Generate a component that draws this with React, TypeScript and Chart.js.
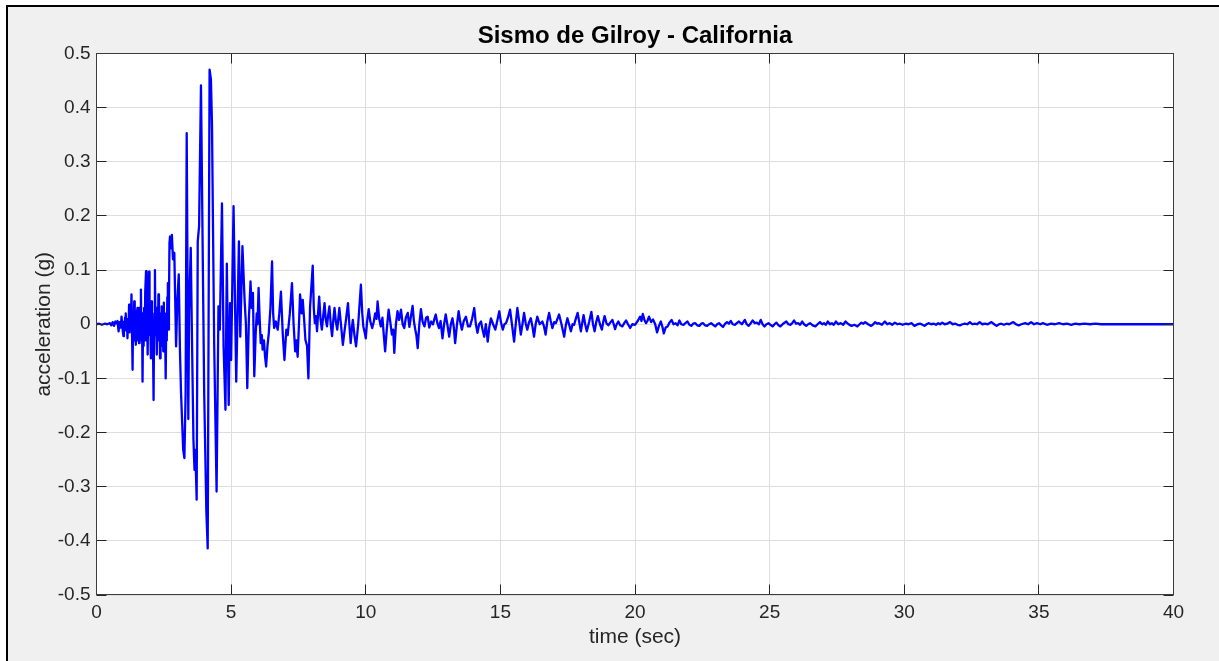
import React, { useEffect, useRef } from "react";
import { Chart, registerables } from "chart.js";

Chart.register(...registerables);

// [time (s), acceleration (g)]
const preEvent: [number, number][] = [
  [0, 0], [0.1, 0.001], [0.2, -0.001], [0.3, 0.001], [0.4, 0], [0.5, 0.002], [0.55, -0.002],
  [0.6, 0.004], [0.65, -0.003], [0.7, 0.005], [0.74, 0.002], [0.78, 0.006], [0.82, -0.013],
  [0.86, 0.004], [0.9, -0.006], [0.93, 0.014], [0.97, -0.01],
  [1.0, -0.022], [1.02, 0.005], [1.04, -0.01], [1.06, 0.012], [1.08, -0.005], [1.09, 0.02],
  [1.11, -0.012], [1.13, 0.008], [1.15, -0.026], [1.17, 0.01], [1.19, -0.008], [1.21, 0.036],
  [1.23, -0.015], [1.25, 0.02], [1.27, -0.01], [1.3, 0.055], [1.32, -0.02], [1.34, -0.084],
  [1.36, 0.01], [1.38, -0.02], [1.4, 0.042], [1.42, -0.03], [1.44, 0.02], [1.46, -0.038],
  [1.48, 0.025], [1.5, -0.02], [1.52, 0.03], [1.54, -0.03], [1.56, 0.015], [1.58, -0.035],
  [1.6, 0.03], [1.62, -0.02], [1.65, 0.064], [1.67, -0.03], [1.69, 0.02], [1.71, -0.106],
  [1.73, 0.01], [1.75, -0.04], [1.77, 0.03], [1.79, -0.03], [1.81, 0.06], [1.84, 0.098],
  [1.86, -0.03], [1.88, 0.02], [1.9, -0.056], [1.92, 0.04], [1.95, 0.097], [1.97, -0.02],
  [1.99, 0.03], [2.02, -0.063], [2.04, 0.042], [2.06, -0.04], [2.08, 0.02], [2.1, -0.05],
  [2.12, -0.14], [2.14, 0.01], [2.17, 0.1], [2.19, -0.02], [2.21, 0.03], [2.24, -0.056],
  [2.26, 0.03], [2.28, -0.02], [2.3, 0.055], [2.32, -0.03], [2.34, 0.02], [2.36, -0.063],
  [2.38, 0.02], [2.4, -0.03], [2.42, 0.033], [2.44, -0.04], [2.46, 0.03], [2.48, -0.05],
  [2.5, 0.04], [2.52, -0.03], [2.54, 0.02], [2.57, -0.1], [2.59, 0.01], [2.61, -0.03],
  [2.63, 0.05], [2.65, 0.076], [2.67, -0.01], [2.69, 0.03],
];

const strongMotion: [number, number][] = [
  [2.71, 0.15], [2.73, 0.162], [2.76, 0.14], [2.8, 0.165], [2.84, 0.12], [2.89, 0.132],
  [2.956, -0.041], [3.0, 0.04], [3.055, 0.092], [3.1, -0.05], [3.14, -0.127], [3.22, -0.232],
  [3.265, -0.247], [3.31, -0.127], [3.35, 0.353], [3.41, -0.175], [3.44, 0.027], [3.5, 0.141],
  [3.54, -0.004], [3.6, -0.213], [3.64, -0.269], [3.67, -0.232], [3.72, -0.324], [3.76, 0.153],
  [3.81, 0.181], [3.88, 0.441], [4.0, -0.127], [4.08, -0.346], [4.13, -0.414], [4.2, 0.47],
  [4.25, 0.452], [4.29, 0.366], [4.37, -0.035], [4.46, -0.309], [4.53, 0.033], [4.58, -0.01],
  [4.66, 0.223], [4.72, -0.041], [4.79, -0.158], [4.84, 0.112], [4.91, -0.149], [4.96, 0.039],
  [5.0, -0.066], [5.09, 0.218], [5.19, -0.106], [5.29, 0.153], [5.34, -0.023], [5.42, 0.144],
  [5.5, 0.045], [5.55, 0.0], [5.6, -0.118], [5.66, 0.01], [5.72, 0.079], [5.76, 0.03],
  [5.81, 0.058], [5.86, -0.096], [5.91, -0.02], [5.95, 0.02], [5.98, 0.0], [6.02, 0.067],
  [6.06, 0.01], [6.1, -0.035], [6.14, -0.02], [6.17, -0.047], [6.22, -0.03], [6.26, -0.06],
  [6.3, -0.078], [6.35, -0.04], [6.4, -0.016], [6.46, 0.03], [6.52, 0.116], [6.56, 0.02],
  [6.6, -0.007], [6.66, 0.005], [6.73, -0.01], [6.79, 0.02], [6.85, 0.06], [6.92, -0.02],
  [6.98, -0.066], [7.05, -0.01], [7.1, -0.02], [7.18, 0.02], [7.26, 0.076], [7.32, 0.0],
  [7.38, -0.05], [7.42, -0.03], [7.47, -0.06], [7.52, 0.0], [7.56, 0.055], [7.62, 0.02],
  [7.66, 0.045], [7.71, 0.01], [7.76, -0.029], [7.82, -0.04], [7.87, -0.1], [7.93, 0.03],
  [8.03, 0.108], [8.07, 0.03], [8.11, 0.002], [8.15, 0.015], [8.19, -0.013], [8.23, 0.02],
  [8.27, 0.051], [8.32, 0.01], [8.37, -0.01], [8.42, 0.015], [8.47, 0.039], [8.51, 0.01],
  [8.56, -0.004], [8.6, 0.015], [8.65, 0.033], [8.7, 0.0], [8.75, -0.022], [8.79, 0.005],
  [8.84, 0.03], [8.89, 0.005], [8.94, -0.01], [8.98, 0.01], [9.02, 0.03], [9.08, 0.0],
  [9.15, -0.038], [9.21, -0.013], [9.27, 0.01], [9.34, 0.039], [9.39, 0.0], [9.44, -0.035],
  [9.48, -0.01], [9.52, 0.008], [9.58, -0.02], [9.64, -0.041], [9.72, 0.0], [9.82, 0.073],
  [9.87, 0.02], [9.91, -0.004], [9.96, -0.015], [10.0, -0.026], [10.05, 0.005], [10.11, 0.028],
  [10.17, 0.005], [10.24, -0.007], [10.3, 0.005], [10.35, 0.02], [10.4, 0.01], [10.44, 0.042],
];

const codaEarly: [number, number][] = [
  [10.5, 0.01], [10.56, -0.004], [10.62, 0.012], [10.67, -0.02], [10.72, -0.05], [10.78, -0.01],
  [10.85, 0.027], [10.91, 0.005], [10.97, -0.019], [11.02, -0.01], [11.06, -0.053], [11.12, 0.0],
  [11.18, 0.024], [11.24, 0.008], [11.31, 0.027], [11.37, 0.0], [11.43, -0.007], [11.49, 0.012],
  [11.56, 0.021], [11.62, -0.005], [11.68, 0.015], [11.74, 0.034], [11.79, 0.005], [11.84, -0.01],
  [11.88, -0.02], [11.93, -0.044], [11.99, 0.0], [12.05, 0.028], [12.11, 0.005], [12.18, -0.004],
  [12.24, 0.012], [12.3, 0.014], [12.36, -0.006], [12.43, 0.005], [12.5, 0.0], [12.55, 0.01],
  [12.6, 0.018], [12.66, 0.002], [12.72, -0.007], [12.78, 0.006], [12.85, -0.026], [12.91, 0.0],
  [12.97, 0.018], [13.03, 0.0], [13.1, -0.023], [13.16, 0.0], [13.22, 0.011], [13.27, -0.005],
  [13.32, -0.035], [13.39, 0.0], [13.45, 0.024], [13.51, 0.004], [13.57, -0.01], [13.64, 0.006],
  [13.72, 0.014], [13.8, -0.004], [13.87, -0.004], [13.95, 0.01], [14.03, 0.03], [14.09, 0.0],
  [14.15, -0.016], [14.21, 0.0], [14.28, 0.005], [14.34, -0.01], [14.4, -0.023], [14.46, 0.0],
  [14.53, -0.032], [14.59, -0.005], [14.65, 0.011], [14.73, 0.0], [14.81, -0.01], [14.88, 0.005],
  [14.96, 0.024], [15.02, 0.004], [15.09, -0.01], [15.15, 0.0], [15.21, 0.002], [15.28, 0.012],
  [15.36, 0.027], [15.43, 0.0], [15.51, -0.032], [15.57, 0.0], [15.63, 0.03], [15.7, 0.005],
  [15.76, -0.019], [15.82, 0.0], [15.88, 0.021], [15.94, 0.002], [16.0, -0.01], [16.06, 0.003],
  [16.13, 0.011], [16.19, -0.004], [16.25, -0.023], [16.31, 0.0], [16.37, 0.014], [16.46, 0.0],
  [16.56, 0.005], [16.62, -0.004], [16.68, -0.019], [16.74, 0.004], [16.81, 0.021], [16.87, 0.006],
  [16.93, -0.007], [17.0, 0.004], [17.06, 0.002], [17.12, 0.01], [17.18, 0.018], [17.27, 0.0],
  [17.37, -0.023], [17.43, -0.002], [17.49, 0.011], [17.55, 0.0], [17.62, -0.013], [17.68, 0.0],
  [17.74, -0.001], [17.8, 0.01], [17.87, 0.021],
];

const codaLate: [number, number][] = [
  [17.99, -0.013], [18.04, 0.002], [18.09, 0.017], [18.15, 0.0], [18.21, -0.013], [18.3, 0.005],
  [18.38, 0.023], [18.44, 0.0], [18.5, -0.013], [18.56, 0.004], [18.62, 0.015], [18.7, 0.0],
  [18.77, -0.01], [18.82, 0.004], [18.87, 0.015], [18.94, 0.002], [19.01, -0.002], [19.08, 0.003],
  [19.16, 0.008], [19.21, 0.0], [19.26, -0.009], [19.32, 0.0], [19.38, 0.005], [19.45, -0.002],
  [19.53, -0.004], [19.6, 0.002], [19.67, 0.007], [19.74, 0.0], [19.82, -0.007], [19.9, 0.0],
  [20.0, -0.001], [20.1, 0.006], [20.19, 0.014], [20.24, 0.006], [20.29, 0.019], [20.35, 0.008],
  [20.41, 0.002], [20.46, 0.006], [20.52, 0.014], [20.6, 0.004], [20.67, 0.009], [20.75, 0.0],
  [20.82, -0.015], [20.89, -0.003], [20.96, 0.005], [21.02, -0.005], [21.07, -0.017], [21.14, -0.006],
  [21.21, -0.004], [21.28, 0.003], [21.36, 0.008], [21.43, 0.0], [21.51, 0.002], [21.58, -0.002],
  [21.65, 0.007], [21.72, 0.0], [21.8, -0.001], [21.87, 0.002], [21.95, 0.005], [22.02, -0.001],
  [22.09, -0.003], [22.16, 0.001], [22.24, 0.002], [22.31, -0.002], [22.39, -0.003], [22.46, 0.001],
  [22.53, 0.002], [22.6, -0.002], [22.68, -0.003], [22.75, 0.0], [22.83, 0.002], [22.9, -0.001],
  [22.98, -0.004], [23.05, 0.0], [23.12, 0.002], [23.2, -0.002], [23.27, -0.005], [23.35, 0.001],
  [23.42, 0.004], [23.49, 0.001], [23.56, 0.006], [23.63, 0.0], [23.71, -0.001], [23.78, 0.002],
  [23.86, 0.005], [23.97, 0.0], [24.08, 0.008], [24.15, 0.0], [24.22, -0.003], [24.3, 0.002],
  [24.37, 0.007], [24.45, 0.002], [24.52, 0.003], [24.6, 0.0], [24.67, 0.008], [24.74, 0.0],
  [24.81, -0.004], [24.88, 0.0], [24.96, 0.002], [25.03, -0.001], [25.11, -0.004], [25.18, 0.0],
  [25.25, 0.003], [25.33, -0.002], [25.4, -0.004], [25.5, 0.001], [25.62, 0.005], [25.7, 0.0],
  [25.77, -0.001], [25.84, 0.002], [25.91, 0.007], [25.98, 0.001], [26.06, 0.002], [26.13, -0.001],
  [26.21, 0.005], [26.28, 0.0], [26.36, -0.003], [26.43, 0.0], [26.5, 0.002], [26.6, -0.002],
  [26.7, -0.004], [26.78, 0.0], [26.87, 0.004], [26.95, 0.0], [27.02, 0.002], [27.09, -0.001],
  [27.16, 0.005], [27.24, 0.0], [27.31, 0.002], [27.38, -0.001], [27.46, 0.005], [27.55, 0.0],
  [27.64, 0.002], [27.73, -0.001], [27.82, 0.005], [27.93, 0.0], [28.04, -0.003], [28.15, -0.001],
  [28.26, -0.004], [28.34, 0.0], [28.41, 0.003], [28.48, 0.001], [28.55, 0.004], [28.66, 0.0],
  [28.77, -0.003], [28.85, 0.0], [28.92, 0.004], [29.0, 0.001], [29.06, 0.002], [29.17, -0.001],
  [29.28, 0.005], [29.37, 0.0], [29.46, 0.002], [29.55, -0.001], [29.65, 0.003], [29.75, 0.0],
  [29.84, 0.001], [29.94, -0.001], [30.05, 0.001], [30.16, 0.0], [30.27, 0.002], [30.38, -0.003],
  [30.49, 0.0], [30.6, 0.001], [30.68, -0.001], [30.75, -0.003], [30.83, 0.0], [30.9, 0.002],
  [31.0, 0.0], [31.1, 0.001], [31.18, -0.001], [31.26, 0.002], [31.33, 0.0], [31.41, 0.003],
  [31.5, 0.0], [31.6, 0.001], [31.7, 0.004], [31.8, 0.0], [31.9, 0.001], [31.98, -0.001],
  [32.07, -0.002], [32.16, 0.0], [32.25, 0.001], [32.34, 0.0], [32.44, 0.004], [32.53, 0.0],
  [32.62, 0.001], [32.7, 0.0], [32.8, 0.004], [32.9, 0.0], [33.0, 0.001], [33.1, 0.0],
  [33.24, 0.004], [33.34, 0.0], [33.43, -0.003], [33.52, 0.0], [33.6, 0.001], [33.7, -0.001],
  [33.8, 0.001], [33.9, 0.0], [34.05, 0.004], [34.15, 0.0], [34.25, -0.002], [34.35, 0.0],
  [34.49, 0.002], [34.6, 0.0], [34.71, 0.004], [34.82, 0.0], [34.93, 0.002], [35.05, 0.0],
  [35.15, 0.002], [35.3, -0.001], [35.45, 0.001], [35.6, 0.0], [35.75, 0.002], [35.9, 0.0],
  [36.05, 0.001], [36.2, -0.001], [36.35, 0.001], [36.5, 0.0], [36.7, 0.001], [36.9, 0.0],
  [37.1, 0.001], [37.3, 0.0], [37.6, 0.0], [38, 0], [39, 0], [40, 0],
];

const xTicks = [0, 5, 10, 15, 20, 25, 30, 35, 40];
const yTicks = [-0.5, -0.4, -0.3, -0.2, -0.1, 0, 0.1, 0.2, 0.3, 0.4, 0.5];
const yTickLabels = ["-0.5", "-0.4", "-0.3", "-0.2", "-0.1", "0", "0.1", "0.2", "0.3", "0.4", "0.5"];

const TITLE = "Sismo de Gilroy - California";
const X_LABEL = "time (sec)";
const Y_LABEL = "acceleration (g)";

const FONT = "'Liberation Sans', Arial, Helvetica, sans-serif";
const AXIS_COLOR = "#262626";

const matlabAxes = {
  id: "matlabAxes",
  afterLayout(chart: any) {
    // centre the title over the plot box, as MATLAB does
    const tb = chart.titleBlock;
    if (tb) {
      tb.left = chart.chartArea.left;
      tb.right = chart.chartArea.right;
    }
  },
  beforeDraw(chart: any) {
    const { ctx, chartArea: a } = chart;
    ctx.save();
    ctx.fillStyle = "#ffffff";
    ctx.fillRect(a.left, a.top, a.right - a.left, a.bottom - a.top);
    ctx.restore();
  },
  afterDatasetsDraw(chart: any) {
    const { ctx, chartArea: a, scales } = chart;
    const xs = scales.x;
    const ys = scales.y;
    const L = Math.floor(a.left) + 0.5;
    const R = Math.floor(a.right) + 0.5;
    const T = Math.floor(a.top) + 0.5;
    const B = Math.floor(a.bottom) - 0.5;
    const len = 10;
    ctx.save();
    ctx.strokeStyle = AXIS_COLOR;
    ctx.lineWidth = 1;
    ctx.beginPath();
    xTicks.forEach((v) => {
      const px = Math.floor(xs.getPixelForValue(v)) + 0.5;
      ctx.moveTo(px, B);
      ctx.lineTo(px, B - len);
      ctx.moveTo(px, T);
      ctx.lineTo(px, T + len);
    });
    yTicks.forEach((v) => {
      const py = Math.floor(ys.getPixelForValue(v)) + 0.5;
      ctx.moveTo(L, py);
      ctx.lineTo(L + len, py);
      ctx.moveTo(R, py);
      ctx.lineTo(R - len, py);
    });
    ctx.stroke();
    ctx.strokeStyle = "#3c3c3c";
    ctx.strokeRect(L, T, R - L, B - T);
    ctx.restore();
  },
};

export default function App() {
  const canvasRef = useRef<HTMLCanvasElement | null>(null);

  useEffect(() => {
    const canvas = canvasRef.current;
    if (!canvas) return;
    const points = [...preEvent, ...strongMotion, ...codaEarly, ...codaLate].map(([t, a]) => ({ x: t, y: a }));

    const chart = new Chart(canvas, {
      type: "line",
      data: {
        datasets: [
          {
            data: points,
            borderColor: "#0000ff",
            borderWidth: 2.3,
            pointRadius: 0,
            tension: 0,
            fill: false,
            borderJoinStyle: "round",
          } as any,
        ],
      },
      options: {
        animation: false,
        responsive: false,
        maintainAspectRatio: false,
        events: [],
        layout: { padding: { left: 0, right: 45.5, top: 0, bottom: 0 } },
        plugins: {
          legend: { display: false },
          tooltip: { enabled: false },
          title: {
            display: true,
            text: TITLE,
            color: "#000000",
            font: { family: FONT, size: 24, weight: "bold" },
            padding: { top: 22, bottom: 2.7 },
          },
        },
        scales: {
          x: {
            type: "linear",
            min: 0,
            max: 40,
            afterBuildTicks: (scale: any) => {
              scale.ticks = xTicks.map((v) => ({ value: v }));
            },
            ticks: {
              color: AXIS_COLOR,
              font: { family: FONT, size: 19 },
              padding: 6,
              maxRotation: 0,
              callback: (v: any) => String(v),
            },
            grid: { color: "#dedede", lineWidth: 1, drawTicks: false },
            border: { display: false },
            title: {
              display: true,
              text: X_LABEL,
              color: AXIS_COLOR,
              font: { family: FONT, size: 21 },
              padding: { top: 0, bottom: 11.4 },
            },
            afterFit: (scale: any) => {
              scale.height = 66;
            },
          },
          y: {
            type: "linear",
            min: -0.5,
            max: 0.5,
            afterBuildTicks: (scale: any) => {
              scale.ticks = yTicks.map((v) => ({ value: v }));
            },
            ticks: {
              color: AXIS_COLOR,
              font: { family: FONT, size: 19 },
              padding: 6,
              callback: (v: any) => {
                const i = yTicks.findIndex((t) => Math.abs(t - Number(v)) < 1e-9);
                return i >= 0 ? yTickLabels[i] : "";
              },
            },
            grid: { color: "#dedede", lineWidth: 1, drawTicks: false },
            border: { display: false },
            title: {
              display: true,
              text: Y_LABEL,
              color: AXIS_COLOR,
              font: { family: FONT, size: 21 },
              padding: { top: 31.4, bottom: 0 },
            },
            afterFit: (scale: any) => {
              scale.width = 96.5;
            },
          },
        },
      } as any,
      plugins: [matlabAxes],
    });

    return () => {
      chart.destroy();
    };
  }, []);

  return (
    <div style={{ position: "fixed", left: 0, top: 0, width: 1219, height: 661, background: "#ffffff", overflow: "hidden" }}>
      <div
        style={{
          position: "absolute",
          left: 6,
          top: 5,
          width: 1400,
          height: 800,
          borderLeft: "2px solid #000",
          borderTop: "2px solid #000",
          background: "#f0f0f0",
        }}
      />
      <canvas
        ref={canvasRef}
        width={1219}
        height={661}
        style={{ position: "absolute", left: 0, top: 0, width: 1219, height: 661 }}
      />
    </div>
  );
}
